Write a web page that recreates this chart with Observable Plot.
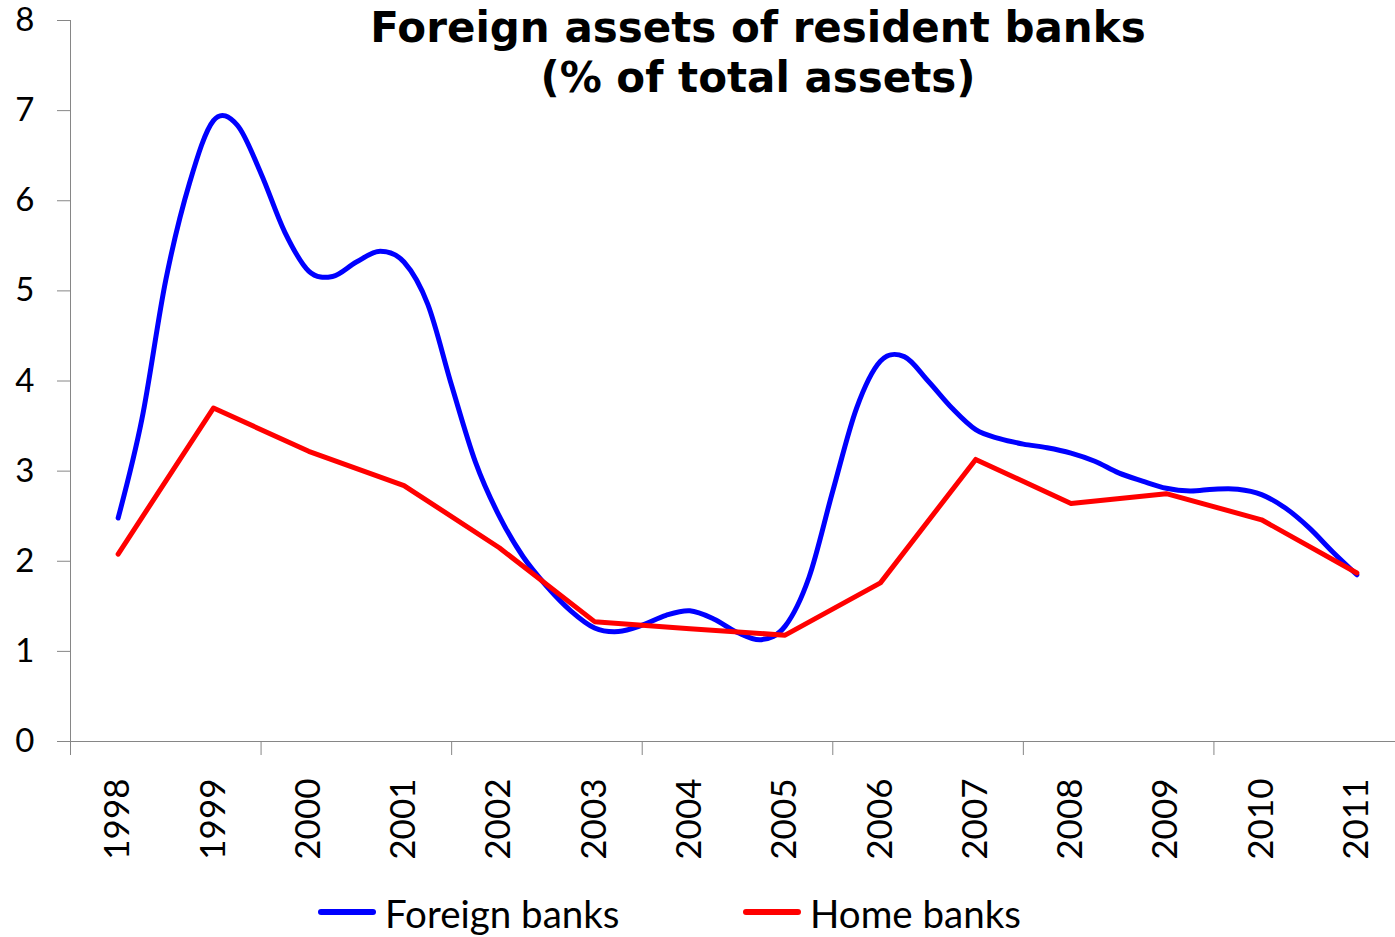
<!DOCTYPE html>
<html>
<head>
<meta charset="utf-8">
<script src="https://cdn.jsdelivr.net/npm/d3@7"></script>
<script src="https://cdn.jsdelivr.net/npm/@observablehq/plot@0.6"></script>
<style>
  body { margin: 0; background: #fff; }
  #wrap { position: relative; width: 1395px; height: 937px; overflow: hidden; background: #fff; }
  #chart { position: absolute; left: 0; top: 0; }
  #title { position: absolute; left: 258px; width: 1000px; top: 3px; text-align: center;
           font-family: "DejaVu Sans"; font-weight: bold; font-size: 42px; line-height: 50px; color: #000; }
  .sw { position: absolute; height: 6px; border-radius: 3px; }
  .lt { position: absolute; font-family: Lato; font-size: 38.5px; line-height: 38px; color: #000; white-space: nowrap; }
</style>
</head>
<body>
<div id="wrap">
  <div id="chart"></div>
  <div id="title">Foreign assets of resident banks<br>(% of total assets)</div>
  <span class="sw" style="left:318px; top:909px; width:58px; background:#0000ff"></span>
  <span class="lt" style="left:385px; top:894px">Foreign banks</span>
  <span class="sw" style="left:743px; top:909px; width:58px; background:#ff0000"></span>
  <span class="lt" style="left:810px; top:894px">Home banks</span>
</div>
<script>
// Categories (years) and series
const years = [1998, 1999, 2000, 2001, 2002, 2003, 2004, 2005, 2006, 2007, 2008, 2009, 2010, 2011];
const homeBanks = [2.08, 3.70, 3.22, 2.84, 2.15, 1.33, 1.25, 1.18, 1.76, 3.13, 2.64, 2.75, 2.46, 1.87];

// Foreign banks: quarterly readings from 1998 to 2011
const foreignBanks = [
  2.48, 3.58, 5.12, 6.20, 6.89, 6.84, 6.30, 5.65, 5.22, 5.16, 5.32, 5.44, 5.32,
  4.85, 3.95, 3.10, 2.50, 2.05, 1.72, 1.45, 1.26, 1.22, 1.29, 1.40, 1.45, 1.36,
  1.21, 1.13, 1.28, 1.82, 2.78, 3.70, 4.22, 4.27, 4.00, 3.70, 3.46, 3.36, 3.30,
  3.26, 3.20, 3.11, 2.98, 2.89, 2.81, 2.78, 2.80, 2.80, 2.74, 2.59, 2.37, 2.10, 1.85
];
const foreignPeriods = foreignBanks.map((_, k) => 1998 + k / 4);

const yTicks = [0, 1, 2, 3, 4, 5, 6, 7, 8];
const xTickMarks = [1997.5, 1999.5, 2001.5, 2003.5, 2005.5, 2007.5, 2009.5, 2011.5];

const foreignData = foreignBanks.map((v, i) => ({x: foreignPeriods[i], y: v}));
const homeData = homeBanks.map((v, i) => ({x: years[i], y: v}));

const axisColor = "#868686";

const chart = Plot.plot({
  width: 1395,
  height: 937,
  marginLeft: 70,
  marginRight: -9,
  marginTop: 20,
  marginBottom: 196,
  style: {fontFamily: "Lato", fontSize: "33px", color: "#000", background: "transparent", overflow: "visible"},
  x: {type: "linear", domain: [1997.5, 2011.5]},
  y: {domain: [0, 8]},
  marks: [
    Plot.axisY({ticks: yTicks, tickSize: 13, tickPadding: 23, stroke: axisColor, label: null, fill: "#000"}),
    Plot.axisX({ticks: xTickMarks, tickSize: 14, tickFormat: () => "", stroke: axisColor, label: null}),
    Plot.axisX({ticks: years, tickSize: 0, tickPadding: 37, tickRotate: -90, tickFormat: d => String(d), label: null, fill: "#000", fontSize: 35}),
    Plot.ruleY([0], {stroke: axisColor, strokeWidth: 1}),
    Plot.ruleX([1997.5], {stroke: axisColor, strokeWidth: 1}),
    Plot.line(foreignData, {x: "x", y: "y", stroke: "#0000ff", strokeWidth: 5, curve: "cardinal", strokeLinecap: "round", strokeLinejoin: "round"}),
    Plot.line(homeData, {x: "x", y: "y", stroke: "#ff0000", strokeWidth: 5, strokeLinecap: "round", strokeLinejoin: "round"})
  ]
});
document.getElementById("chart").appendChild(chart);
</script>
</body>
</html>
